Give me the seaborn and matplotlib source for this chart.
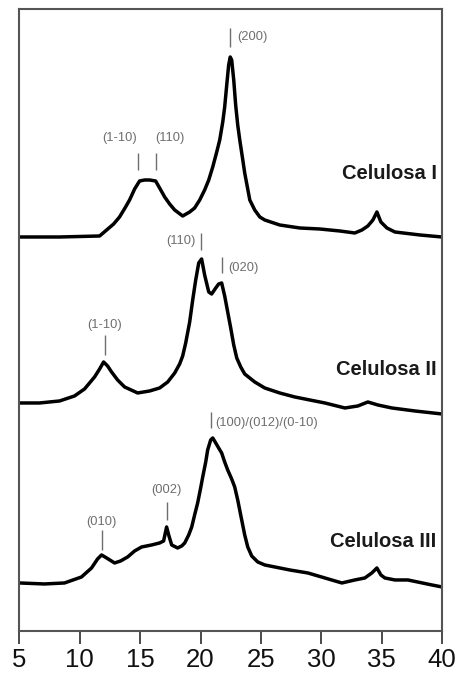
import numpy as np
import pandas as pd
import matplotlib
matplotlib.use("Agg")
import matplotlib.pyplot as plt
import seaborn as sns

# 2-theta (degrees) and intensity (a.u.) for each cellulose polymorph
two_theta_I = [5.00, 8.32, 11.64, 12.22, 12.80, 13.29, 13.79, 14.12, 14.54, 14.95,
               15.37, 15.78, 16.28, 16.61, 17.03, 17.44, 17.86, 18.52, 19.10, 19.51,
               19.93, 20.34, 20.68, 21.01, 21.34, 21.59, 21.84, 22.00, 22.17, 22.33,
               22.46, 22.58, 22.75, 22.91, 23.08, 23.25, 23.50, 23.66, 24.08, 24.49,
               24.91, 25.32, 26.56, 28.22, 29.88, 31.54, 32.78, 33.37, 33.86, 34.28,
               34.61, 34.94, 35.44, 36.10, 38.18, 40.00]
intensity_I = [14, 14, 15, 21, 27, 34, 44, 51, 62, 70,
               71, 71, 70, 63, 54, 47, 41, 35, 39, 43,
               51, 61, 71, 84, 99, 111, 129, 144, 166, 186,
               194, 191, 171, 146, 126, 111, 91, 78, 51, 41,
               34, 31, 26, 23, 22, 20, 18, 21, 25, 31,
               39, 29, 23, 19, 16, 14]

two_theta_II = [5.00, 6.66, 8.32, 9.56, 10.39, 11.22, 11.64, 11.97, 12.30, 12.63,
                13.13, 13.71, 14.79, 15.78, 16.61, 17.28, 17.86, 18.27, 18.52, 18.77,
                19.10, 19.35, 19.60, 19.85, 20.09, 20.34, 20.68, 20.92, 21.26, 21.50,
                21.75, 22.00, 22.25, 22.50, 22.75, 23.00, 23.33, 23.66, 24.49, 25.32,
                26.56, 27.81, 29.05, 30.30, 31.96, 33.03, 33.86, 34.69, 35.85, 37.76,
                40.00]
intensity_II = [18, 18, 20, 25, 32, 44, 52, 59, 55, 49,
                41, 34, 28, 30, 33, 39, 48, 57, 65, 78,
                99, 121, 141, 158, 162, 146, 129, 127, 133, 137,
                138, 125, 109, 93, 76, 63, 54, 47, 39, 33,
                28, 24, 21, 18, 13, 15, 19, 16, 13, 10,
                7]

two_theta_III = [5.00, 7.07, 8.73, 10.14, 10.97, 11.47, 11.80, 12.22, 12.88, 13.38,
                 13.96, 14.54, 15.12, 15.95, 16.61, 16.94, 17.19, 17.36, 17.61, 18.10,
                 18.44, 18.69, 19.02, 19.27, 19.51, 19.76, 20.01, 20.18, 20.43, 20.59,
                 20.84, 21.01, 21.26, 21.50, 21.75, 22.00, 22.25, 22.58, 22.83, 23.08,
                 23.41, 23.66, 23.91, 24.24, 24.74, 25.32, 26.15, 27.39, 28.89, 30.30,
                 31.71, 32.78, 33.61, 34.19, 34.61, 34.94, 35.27, 36.10, 37.18, 39.17,
                 40.00]
intensity_III = [18, 17, 18, 24, 33, 42, 46, 43, 38, 40,
                 44, 50, 54, 56, 58, 60, 74, 66, 56, 53,
                 55, 58, 66, 74, 86, 98, 113, 124, 139, 151,
                 161, 163, 158, 153, 148, 139, 131, 122, 114, 101,
                 81, 66, 54, 45, 39, 36, 34, 31, 28, 23,
                 18, 21, 23, 28, 33, 26, 23, 21, 21, 16,
                 14]

sample_names = ["Celulosa I", "Celulosa II", "Celulosa III"]
stack_offsets = [380, 210, 30]

# Miller-index reflections: (label, 2-theta, sample index)
reflections = [
    ("(200)", 22.4, 0), ("(1-10)", 14.8, 0), ("(110)", 16.3, 0),
    ("(110)", 20.0, 1), ("(020)", 21.75, 1), ("(1-10)", 12.05, 1),
    ("(100)/(012)/(0-10)", 20.9, 2), ("(002)", 17.2, 2), ("(010)", 11.8, 2),
]

x_ticks = [5, 10, 15, 20, 25, 30, 35, 40]

sns.set_theme(style="white")
plt.rcParams["font.family"] = ["Liberation Sans", "DejaVu Sans"]

frames = []
for name, tt, inten, off in zip(sample_names,
                                [two_theta_I, two_theta_II, two_theta_III],
                                [intensity_I, intensity_II, intensity_III],
                                stack_offsets):
    frames.append(pd.DataFrame({"two_theta": tt,
                                "signal": np.asarray(inten) + off,
                                "sample": name}))
data = pd.concat(frames, ignore_index=True)

fig = plt.figure(figsize=(4.58, 6.77), dpi=100)
ax = fig.add_axes([0.0425, 0.068, 0.9225, 0.9187])

sns.lineplot(data=data, x="two_theta", y="signal", units="sample",
             estimator=None, sort=False, color="black", linewidth=2.5, ax=ax)

# reflection markers and labels (layout per reflection)
marker_layout = {
    0: dict(y0=584, y1=603, tx=23.0, ty=594, ha="left"),
    1: dict(y0=461, y1=478, tx=13.3, ty=493, ha="center"),
    2: dict(y0=461, y1=478, tx=17.45, ty=493, ha="center"),
    3: dict(y0=381, y1=398, tx=19.6, ty=390, ha="right"),
    4: dict(y0=358, y1=374, tx=22.3, ty=363, ha="left"),
    5: dict(y0=276, y1=296, tx=12.05, ty=306, ha="center"),
    6: dict(y0=203, y1=219, tx=21.25, ty=208, ha="left"),
    7: dict(y0=111, y1=129, tx=17.2, ty=141, ha="center"),
    8: dict(y0=81, y1=101, tx=11.8, ty=109, ha="center"),
}
ref_color = "#6e6e6e"
for i, (lab, pos, s) in enumerate(reflections):
    lay = marker_layout[i]
    ax.vlines(pos, lay["y0"], lay["y1"], color=ref_color, linewidth=1.0)
    ax.text(lay["tx"], lay["ty"], lab, ha=lay["ha"], va="center",
            fontsize=9.3, color=ref_color)

label_y = [457, 261, 89]
for name, ly in zip(sample_names, label_y):
    ax.text(39.55, ly, name, ha="right", va="center", fontsize=14.5,
            fontweight="bold", color="#1a1a1a")

ax.set_xlim(5, 40)
ax.set_ylim(0, 622)
ax.set_xticks(x_ticks)
ax.set_xticklabels([str(t) for t in x_ticks])
ax.set_yticks([])
ax.set_xlabel("")
ax.set_ylabel("")
ax.tick_params(axis="x", direction="out", length=9, width=1.4,
               color="#4a4a4a", labelsize=18.5, pad=3, labelcolor="#111111",
               bottom=True)
for sp in ax.spines.values():
    sp.set_visible(True)
    sp.set_color("#555555")
    sp.set_linewidth(1.5)

fig.savefig("out.png", dpi=100, facecolor="white")
